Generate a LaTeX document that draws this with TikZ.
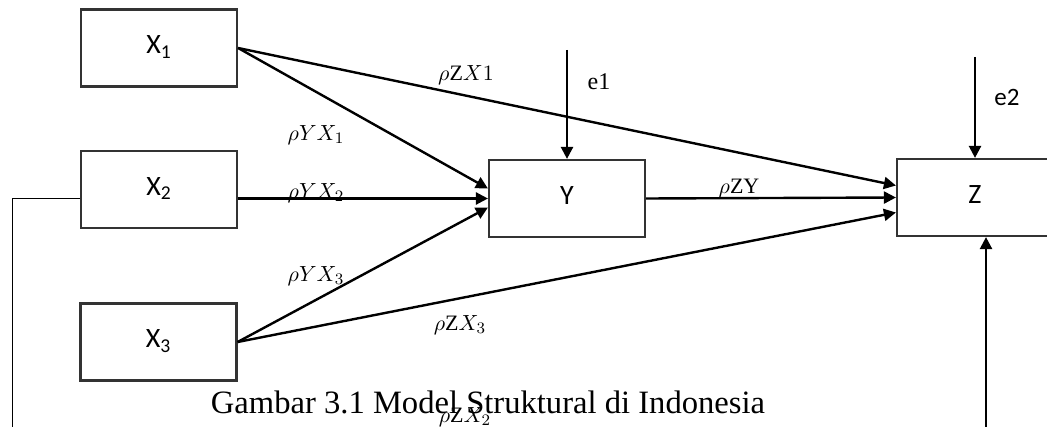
\documentclass[tikz,border=0pt]{standalone}
\usepackage{amsmath}
\usepackage{fontspec}
\setmainfont{Liberation Serif}
\newfontfamily\boxfont{Carlito}
\usepackage{tikz}
\usetikzlibrary{arrows.meta}

\begin{document}
\begin{tikzpicture}[x=0.5pt,y=-0.5pt,>={Triangle[length=6pt,width=6pt]},
  var/.style={draw=black!80,line width=1.1pt,minimum width=78pt,minimum height=38.5pt,inner sep=0pt,font=\boxfont\fontsize{14}{16}\selectfont},
  path/.style={->,line width=1.2pt},
  coef/.style={inner sep=0pt,font=\fontsize{11}{12}\selectfont}]
\useasboundingbox (0,0) rectangle (1047,427);
\node[var](X1) at (159,48){\raisebox{3pt}{X\textsubscript{1}}};
\node[var](X2) at (159,189.5){\raisebox{3pt}{X\textsubscript{2}}};
\node[var](X3) at (158.5,342){\raisebox{3pt}{X\textsubscript{3}}};
\node[var](Y) at (567,198.5){\raisebox{3pt}{Y}};
\node[var](Z) at (975,197.5){\raisebox{3pt}{Z}};
\coordinate(e1top) at (567,50);
\coordinate(e2top) at (975,57);
\coordinate(loopL) at (12,427);
\coordinate(loopR) at (986,427);
% paths to Y
\draw[path](X1.east)--([yshift=5pt]Y.west);
\draw[path](X2.east|-Y.west)--(Y.west);
\draw[path](X3.east)--([yshift=-4.5pt]Y.west);
% paths to Z
\draw[path](X1.east)--([yshift=6pt]Z.west);
\draw[path](Y.east)--(Z.west);
\draw[path](X3.east)--([yshift=-7.5pt]Z.west);
\draw[path](e1top)--(Y.north);
\draw[path](e2top)--(Z.north);
% X2 to Z round the bottom
\draw[line width=0.5pt](X2.west|-Y.west)-|(loopL)--(loopR);
\draw[path](loopR)--(loopR|-Z.south);
\node[coef](l1) at (466,75){$\rho\mathrm{Z}X1$};
\node[coef](l2) at (316,135){$\rho YX_1$};
\node[coef](l3) at (316,193){$\rho YX_2$};
\node[coef](l4) at (316,276){$\rho YX_3$};
\node[coef](l5) at (739,188){$\rho\mathrm{ZY}$};
\node[coef](l6) at (460,325){$\rho\mathrm{Z}X_3$};
\node[coef](l7) at (465,417){$\rho\mathrm{Z}X_2$};
\node[font=\fontsize{12}{14}\selectfont](e1) at (599,82){e1};
\node[font=\boxfont\fontsize{12.5}{14}\selectfont](e2) at (1007,97){e2};
\node[font=\fontsize{16.3}{18}\selectfont](caption) at (488,402){Gambar 3.1 Model Struktural di Indonesia};
\end{tikzpicture}
\end{document}
